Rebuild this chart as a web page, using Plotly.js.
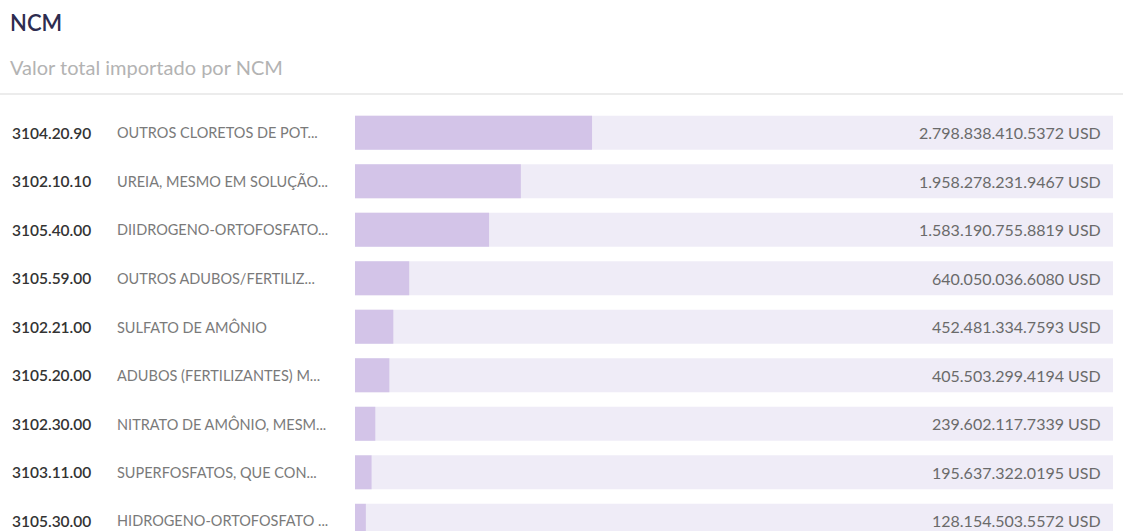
<!DOCTYPE html>
<html>
<head>
<meta charset="utf-8">
<script src="https://cdn.plot.ly/plotly-3.0.1.min.js"></script>
<style>
html,body{margin:0;padding:0;background:#fff;}
#chart{width:1123px;height:531px;}
</style>
</head>
<body>
<div id="chart"></div>
<script>
const codigos = ["3104.20.90","3102.10.10","3105.40.00","3105.59.00","3102.21.00","3105.20.00","3102.30.00","3103.11.00","3105.30.00"];
const descricoes = ["OUTROS CLORETOS DE POT...","UREIA, MESMO EM SOLUÇÃO...","DIIDROGENO-ORTOFOSFATO...","OUTROS ADUBOS/FERTILIZ...","SULFATO DE AMÔNIO","ADUBOS (FERTILIZANTES) M...","NITRATO DE AMÔNIO, MESM...","SUPERFOSFATOS, QUE CON...","HIDROGENO-ORTOFOSFATO ..."];
const valores = [2798838410.5372,1958278231.9467,1583190755.8819,640050036.6080,452481334.7593,405503299.4194,239602117.7339,195637322.0195,128154503.5572];
const totalImportado = 8.95e9;
const moeda = "USD";

function fmt(v){
  const s = v.toFixed(4).split(".");
  const inteiro = s[0].replace(/\B(?=(\d{3})+(?!\d))/g, ".");
  return inteiro + "." + s[1] + " " + moeda;
}

const fontFam = "Lato, 'Open Sans', sans-serif";
const plotLeft = 355, plotRight = 10, W = 1123;
const plotW = W - plotLeft - plotRight;
const px = p => (p - plotLeft) / plotW;

const track = {
  type: "bar", orientation: "h",
  y: codigos, x: codigos.map(() => totalImportado),
  marker: {color: "#efecf7"}, width: 0.7,
  hoverinfo: "skip", showlegend: false
};
const bars = {
  type: "bar", orientation: "h",
  y: codigos, x: valores,
  marker: {color: "#d3c4e8"}, width: 0.7,
  hovertemplate: "%{y}: %{x}<extra></extra>", showlegend: false
};

const annotations = [];
codigos.forEach((c, i) => {
  annotations.push({xref: "paper", yref: "y", x: px(10), y: c, xanchor: "left", yanchor: "middle",
    text: c, showarrow: false, font: {family: fontFam, size: 15.5, color: "#333333", weight: 600}});
  annotations.push({xref: "paper", yref: "y", x: px(115), y: c, xanchor: "left", yanchor: "middle",
    text: descricoes[i], showarrow: false, font: {family: fontFam, size: 14.5, color: "#7a7a7a"}});
  annotations.push({xref: "x", yref: "y", x: totalImportado, y: c, xanchor: "right", yanchor: "middle", xshift: -10,
    text: fmt(valores[i]), showarrow: false, font: {family: fontFam, size: 16, color: "#6a6a6a"}});
});

const layout = {
  width: 1123, height: 531,
  paper_bgcolor: "#ffffff", plot_bgcolor: "#ffffff",
  margin: {l: plotLeft, r: plotRight, t: 98, b: 0, pad: 0},
  barmode: "overlay",
  title: {
    text: "NCM",
    x: 10 / W, xanchor: "left", xref: "container",
    y: 1 - 23 / 531, yanchor: "middle", yref: "container",
    font: {family: fontFam, size: 22, color: "#2e2c4f", weight: 600},
    subtitle: {text: "Valor total importado por NCM", font: {family: fontFam, size: 20, color: "#b3b3b3"}}
  },
  xaxis: {range: [0, totalImportado], showgrid: false, zeroline: false, showticklabels: false, ticks: "", showline: false, fixedrange: true},
  yaxis: {type: "category", range: [8.21, -0.715], showgrid: false, zeroline: false, showticklabels: false, ticks: "", showline: false, fixedrange: true},
  annotations: annotations,
  shapes: [{type: "line", xref: "paper", yref: "paper", x0: px(0), x1: px(W), y0: 1 + 4 / 433, y1: 1 + 4 / 433,
    line: {color: "#ececec", width: 2}}]
};

Plotly.newPlot("chart", [track, bars], layout, {displayModeBar: false, responsive: false});
</script>
</body>
</html>
